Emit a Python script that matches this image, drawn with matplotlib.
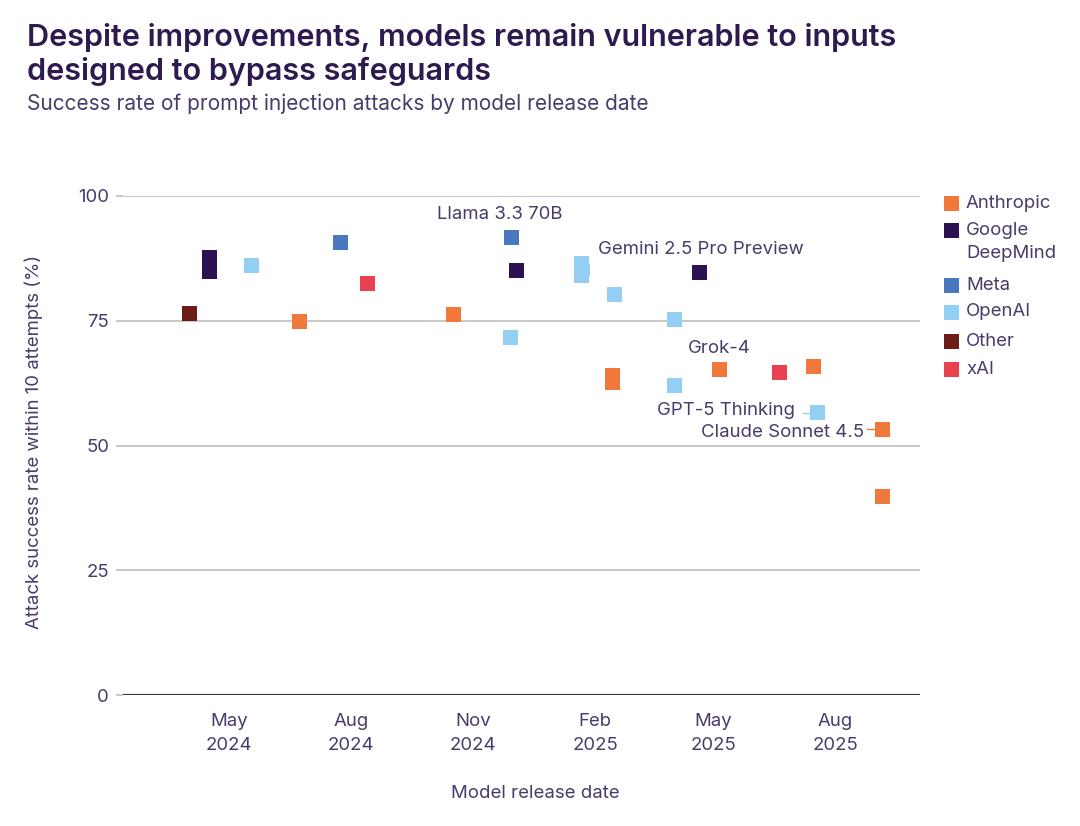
import matplotlib
matplotlib.use("Agg")
import matplotlib.pyplot as plt
import pandas as pd

plt.rcParams['font.family'] = ['Inter', 'DejaVu Sans']

# developer, release date, low and high attack success rate (%)
developers = ["Other", "Google DeepMind", "OpenAI", "Anthropic", "Meta", "xAI",
              "Anthropic", "OpenAI", "Meta", "Google DeepMind", "OpenAI", "Anthropic",
              "OpenAI", "OpenAI", "OpenAI", "Google DeepMind", "Anthropic", "xAI",
              "Anthropic", "OpenAI", "Anthropic", "Anthropic"]
dates = ["2024-04-01", "2024-04-16", "2024-05-18", "2024-06-23", "2024-07-24", "2024-08-13",
         "2024-10-17", "2024-11-29", "2024-11-30", "2024-12-04", "2025-01-22", "2025-02-14",
         "2025-02-16", "2025-04-02", "2025-04-02", "2025-04-21", "2025-05-06", "2025-06-20",
         "2025-07-16", "2025-07-19", "2025-09-06", "2025-09-06"]
rate_lo = [76.5, 84.9, 86.1, 74.9, 90.7, 82.5,
           76.2, 71.6, 91.7, 85.0, 84.0, 62.6,
           80.3, 75.3, 62.1, 84.7, 65.2, 64.7,
           65.8, 56.6, 53.3, 39.7]
rate_hi = [76.5, 87.7, 86.1, 74.9, 90.7, 82.5,
           76.2, 71.6, 91.7, 85.0, 86.5, 64.1,
           80.3, 75.3, 62.1, 84.7, 65.2, 64.7,
           65.8, 56.6, 53.3, 39.7]

legend_names = ["Anthropic", "Google DeepMind", "Meta", "OpenAI", "Other", "xAI"]
colors = {"Anthropic": "#f0783a", "Google DeepMind": "#2c1250", "Meta": "#4a78bf",
          "OpenAI": "#93cff2", "Other": "#6e1c18", "xAI": "#e8414f"}

tick_dates = ["2024-05-01", "2024-08-01", "2024-11-01", "2025-02-01", "2025-05-01", "2025-08-01"]
tick_labels = ["May\n2024", "Aug\n2024", "Nov\n2024", "Feb\n2025", "May\n2025", "Aug\n2025"]
y_ticks = [0, 25, 50, 75, 100]

# annotations: text, anchor date, value, alignment
notes = [("Llama 3.3 70B", "2024-11-21", 96.2, "center"),
         ("Gemini 2.5 Pro Preview", "2025-04-22", 89.2, "center"),
         ("Grok-4", "2025-05-06", 69.5, "center"),
         ("GPT-5 Thinking", "2025-07-02", 57.1, "right"),
         ("Claude Sonnet 4.5", "2025-08-23", 52.7, "right")]
# leader lines: start, end, value, colour key
leaders = [("2025-07-08", "2025-07-14", 56.6, "OpenAI"),
           ("2025-08-25", "2025-09-01", 53.3, "Anthropic")]

df = pd.DataFrame({"dev": developers, "date": pd.to_datetime(dates),
                   "lo": rate_lo, "hi": rate_hi})

text_c = "#4a3b6b"
title_c = "#2e1a4f"
fs = 13.4
msize = 10.8

fig = plt.figure(figsize=(10.8, 8.26), dpi=100)
ax = fig.add_axes([123 / 1080, 1 - 695 / 826, 797 / 1080, 499 / 826])

ax.set_ylim(0, 100)
ax.set_xlim(pd.Timestamp("2024-02-11"), pd.Timestamp("2025-10-04"))

for yv in y_ticks[1:]:
    ax.axhline(yv, color="#c4c4c4", lw=1.3, zorder=1)
ax.axhline(0, color="#3a3a3a", lw=1.6, zorder=2)

for _, r in df.iterrows():
    c = colors[r["dev"]]
    if r["hi"] > r["lo"]:
        ax.vlines(r["date"], r["lo"], r["hi"], color=c, lw=msize, zorder=3)
    ax.scatter([r["date"], r["date"]], [r["lo"], r["hi"]], marker="s", s=msize ** 2,
               color=c, edgecolors="none", zorder=3)

for txt, d, v, ha in notes:
    ax.text(pd.Timestamp(d), v, txt, ha=ha, va="center", fontsize=fs,
            color=text_c, zorder=4)

for d0, d1, v, key in leaders:
    ax.plot([pd.Timestamp(d0), pd.Timestamp(d1)], [v, v], color=colors[key], lw=1, zorder=2)

for s in ax.spines.values():
    s.set_visible(False)
ax.set_yticks(y_ticks)
ax.set_xticks(pd.to_datetime(tick_dates))
ax.set_xticklabels(tick_labels)
for lab in ax.get_xticklabels():
    lab.set_linespacing(1.55)
ax.tick_params(axis="both", labelsize=fs, labelcolor=text_c)
ax.tick_params(axis="y", length=5, color="#c4c4c4", width=1.3, pad=5)
ax.tick_params(axis="x", length=0, pad=13)

ax.set_ylabel("Attack success rate within 10 attempts (%)", fontsize=fs, color=text_c)
ax.yaxis.set_label_coords(-0.1, 0.507)
ax.set_xlabel("Model release date", fontsize=fs, color=text_c)
ax.xaxis.set_label_coords(0.517, -0.18)

fig.text(27 / 1080, 1 - 38 / 826, "Despite improvements, models remain vulnerable to inputs",
         fontsize=22, fontweight="semibold", color=title_c, va="center", ha="left")
fig.text(27 / 1080, 1 - 71 / 826, "designed to bypass safeguards",
         fontsize=22, fontweight="semibold", color=title_c, va="center", ha="left")
fig.text(27 / 1080, 1 - 104 / 826, "Success rate of prompt injection attacks by model release date",
         fontsize=15, color=text_c, va="center", ha="left")

# legend, drawn by hand so the marker sits on the first line of "Google DeepMind"
leg_y = [203, 231, 285, 312, 341, 369]
for name, yp in zip(legend_names, leg_y):
    ax.scatter([951 / 1080], [1 - yp / 826], marker="s", s=msize ** 2, color=colors[name],
               edgecolors="none", transform=fig.transFigure, clip_on=False)
    if name == "Google DeepMind":
        fig.text(966 / 1080, 1 - yp / 826, "Google", fontsize=fs, color=text_c, va="center")
        fig.text(966 / 1080, 1 - 254 / 826, "DeepMind", fontsize=fs, color=text_c, va="center")
    else:
        fig.text(966 / 1080, 1 - yp / 826, name, fontsize=fs, color=text_c, va="center")

fig.savefig("out.png", dpi=100)
